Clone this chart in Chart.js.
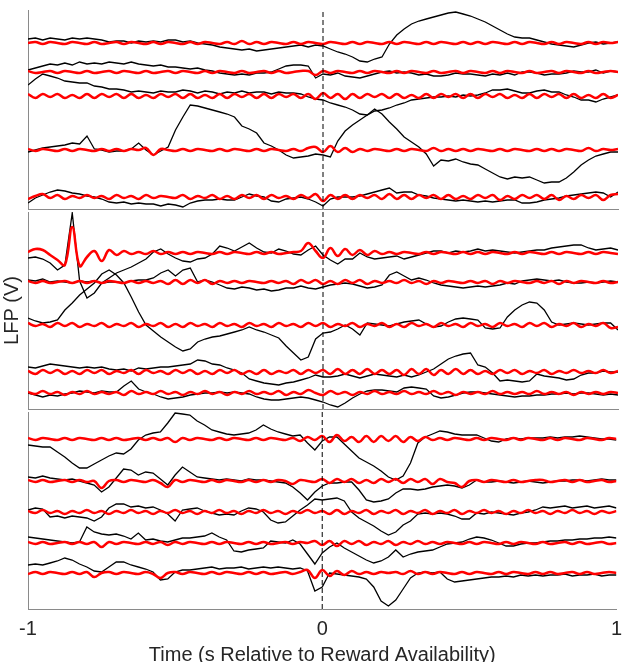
<!DOCTYPE html>
<html>
<head>
<meta charset="utf-8">
<script src="https://cdn.jsdelivr.net/npm/chart.js@4.4.0/dist/chart.umd.min.js"></script>
<style>
  html, body { margin: 0; padding: 0; background: #fff; }
  body { width: 630px; height: 662px; overflow: hidden; position: relative; }
  .panel { position: absolute; left: 0; width: 630px; }
</style>
</head>
<body>
<div class="panel" style="top:0;height:212px"><canvas id="chartA"></canvas></div>
<div class="panel" style="top:202px;height:210px"><canvas id="chartB"></canvas></div>
<div class="panel" style="top:402px;height:268px"><canvas id="chartC"></canvas></div>
<script>
// sample times, -1 s to 1 s in steps of 0.025 s
const times = Array.from({ length: 81 }, (_, i) => -1 + i * 0.025);
const xTicks = [-1, 0, 1];

/* Top panel */

const redBaseA = [166, 137, 113, 59, 12];

const redA1 = [0,1,-1,1,0,-1,1,0,-1,1, -1,0,1,-1,1,0,-1,1,-1,1, 0,-1,1,-1,1,0,-1,1,-1,2, -1,1,-1,1,0,-1,1,-1,1,0,
  -1,1,0,-1,1,-1,1,0,-1,1, -1,1,0,-1,1,-1,1,0,-1,1, -1,1,-1,1,0,-1,1,-1,1,0, -1,1,-1,1,0,-1,1,-1,1,0, 1];
const redA2 = [1,-1,0,1,-1,1,0,-1,1,-1, 0,1,-1,1,0,-1,1,-1,0,1, -1,1,0,-1,1,-1,1,0,-1,1, -1,0,1,-1,1,-1,0,1,1,-3,
  1,-1,1,0,-1,1,-1,1,0,-1, 1,-1,1,0,-1,1,-1,0,1,-1, 1,0,-1,1,-1,1,0,-1,1,-1, 0,1,-1,1,0,-1,1,-1,0,1, 0];
const redA3 = [2,-2,2,-1,2,-2,1,-2,2,-2, 2,-1,2,-2,2,-2,1,-2,2,-1, 2,-2,2,-2,1,-2,2,-2,2,-1, 2,-2,2,-2,2,-1,2,-2,2,-3,
  3,-2,2,-3,2,-2,2,-1,2,-2, 2,-2,1,-2,2,-2,2,-1,2,-2, 2,-2,2,-1,2,-2,1,-2,2,-2, 2,-1,2,-2,2,-2,1,-2,2,-2, 1];
const redA4 = [1,-1,1,0,-1,1,-1,1,0,-1, 1,-1,1,-1,1,0,2,-5,1,0, -1,1,-1,1,0,-1,1,-1,1,0, -1,1,-1,1,0,-1,1,-1,2,3,
  -2,4,-2,2,-2,1,-1,1,0,-1, 1,-1,1,0,-1,2,-1,1,-1,1, -1,1,0,-1,1,-1,1,0,-1,1, -1,1,-1,1,0,-1,2,-1,1,0, 1];
const redA5 = [-2,1,3,-1,2,-2,1,-1,2,-1, 1,-2,2,-1,1,-2,2,-1,1,0, -1,2,-2,1,-1,2,-2,1,-2,2, -1,2,-2,2,-1,1,-2,2,-1,3,
  -4,2,-2,2,-2,2,-1,2,-2,3, -2,2,-2,2,-1,2,-2,2,-2,1, -2,2,-1,2,-3,1,-2,2,-1,2, -2,2,-3,1,-2,2,-1,2,-3,2, 3];

const blackA1 = [170,171,169,171,170,169,171,170,171,170, 169,167,168,168,166,168,167,168,167,169,
  169,167,168,166,165,164,162,161,160,159, 160,158,159,160,161,162,163,164,162,164,
  163,160,157,155,152,148,147,150,152,165, 174,180,185,188,190,192,194,196,197,195,
  193,190,187,183,179,175,172,171,171,169, 167,165,164,163,162,164,166,167,165,166, 167];
const blackA2 = [139,141,143,145,144,146,144,147,145,146, 145,147,146,145,147,145,144,143,144,142,
  142,141,140,141,139,138,136,135,134,135, 134,136,136,137,140,143,144,144,143,131,
  135,134,136,133,132,131,133,135,137,138, 136,137,136,134,135,133,133,134,136,135,
  135,134,133,135,134,136,134,137,137,136, 134,135,135,136,138,137,137,139,136,138, 137];
const blackA3 = [124,130,135,133,131,128,127,126,126,123, 122,120,120,119,117,118,117,116,118,117,
  117,119,118,116,118,117,115,117,116,118, 116,117,117,115,117,116,116,115,112,110,
  109,106,104,102,99,95,94,98,99,101, 104,106,109,110,111,112,112,113,112,114,
  113,114,116,119,119,120,118,116,116,118, 119,117,117,114,112,109,109,107,110,112, 114];
const blackA4 = [57,59,61,62,63,64,66,65,73,60, 59,57,58,58,60,66,59,54,58,62,
  79,92,104,103,101,99,97,95,92,83, 80,76,66,63,59,54,51,52,53,55,
  54,52,68,78,84,89,94,100,95,87, 80,72,67,62,55,43,49,48,50,47,
  45,44,40,36,32,30,32,31,32,29, 26,27,27,31,37,44,49,53,55,57, 57];
const blackA5 = [6,11,14,17,19,18,16,15,13,12, 10,7,6,7,5,6,5,5,3,5,
  4,2,6,8,9,9,10,9,9,12, 15,13,12,8,7,10,11,12,10,7,
  3,10,12,12,12,13,15,17,19,21, 16,17,17,14,13,11,10,9,8,9,
  8,7,8,7,8,9,9,6,6,7, 9,10,11,13,14,15,16,17,16,12, 17];

/* Middle panel */

const redBaseB = [156, 127, 84, 37, 16];

const redB1 = [1,4,3,-2,-7,-12,26,-13,-4,2, -8,3,-2,2,-1,1,-1,2,-1,1, -1,1,-1,1,0,-1,1,-1,1,0, -1,1,-1,1,-1,0,1,2,10,2,
  -5,5,-3,4,-2,3,-2,2,-1,1, -1,1,0,-1,1,-1,1,0,-1,1, -1,1,-1,1,0,-1,1,-1,1,0, -1,1,-1,1,0,-1,1,-1,1,0, -1];
const redB2 = [1,-1,1,-1,0,1,-1,1,-1,1, -1,1,0,-1,1,-1,1,-1,1,-2, 2,-2,2,-1,2,-2,1,-1,1,-1, 1,0,-1,1,-1,1,-2,2,-1,2,
  -2,1,-2,2,-1,2,-2,1,-1,1, -1,2,-1,1,-2,1,-1,1,0,-1, 1,-1,1,-2,1,-1,1,0,-1,1, -1,1,-2,1,-1,1,0,-1,1,-1, 0];
const redB3 = [2,-1,1,-2,2,-1,2,-2,1,-1, 2,-2,1,-1,2,-2,1,-1,2,-2, 1,-2,2,-1,1,-2,2,-1,1,-2, 2,-1,1,-2,2,-1,1,-2,2,-1,
  2,-2,1,-1,2,-2,1,-1,2,-2, 1,-2,2,-1,1,-2,2,-1,1,-2, 2,-1,1,-2,2,-1,1,-2,2,-1, 2,-2,1,-1,2,-2,1,-1,2,-3, -2];
const redB4 = [1,-2,2,-1,2,-2,1,-2,2,-1, 2,-2,1,-1,2,-2,2,-1,1,-2, 2,-1,2,-2,1,-2,2,-1,2,-2, 1,-2,2,-2,1,-1,2,-2,2,-1,
  2,-2,3,-2,2,-2,3,-2,2,-2, 2,-3,3,-2,3,-3,2,-2,3,-2, 2,-2,1,-2,2,-1,2,-2,1,-1, 2,-2,1,-1,2,-1,1,-1,2,-1, 1];
const redB5 = [1,-1,2,-1,1,-2,1,-1,2,-1, 1,-1,1,-2,2,-1,1,-1,2,-1, 1,-2,1,-1,2,-1,1,-2,1,-1, 2,-1,1,-1,2,-2,1,-1,3,0,
  -2,2,-1,1,-2,1,-1,2,-1,1, -1,2,-1,1,-1,2,-1,1,-2,1, -1,1,-1,2,-1,1,-1,1,-1,2, -1,1,-1,1,-2,1,-1,1,-1,1, 0];

const blackB1 = [151,152,150,146,139,144,196,128,111,116, 126,131,136,139,142,146,150,157,160,155,
  151,148,147,150,151,155,163,161,158,162, 166,161,157,156,160,158,155,154,159,163,
  154,149,145,150,150,156,152,150,151,152, 153,150,152,154,156,158,158,156,158,157,
  158,160,158,159,158,157,156,157,158,159, 159,161,162,163,164,164,161,159,160,161, 159];
const blackB2 = [129,128,130,127,128,127,126,128,127,128, 126,127,127,126,128,129,129,131,136,139,
  133,139,141,127,129,127,124,121,120,122, 121,119,120,118,119,121,121,123,121,120,
  122,124,125,126,125,123,121,122,124,134, 137,133,129,131,129,126,124,123,122,121,
  122,123,122,123,124,126,125,128,129,130, 129,128,129,127,126,126,127,126,127,128, 127];
const blackB3 = [91,88,86,87,89,99,106,114,120,126, 135,139,134,126,112,97,84,78,72,67,
  62,58,60,67,70,72,73,75,77,79, 82,79,77,74,71,63,56,49,52,70,
  76,77,80,84,80,74,86,85,84,83, 85,87,88,89,85,82,83,87,90,91,
  90,89,81,80,81,92,99,104,107,106, 99,87,84,85,86,85,84,85,86,86, 79];
const blackB4 = [42,41,43,45,44,43,42,41,42,41, 42,40,39,40,38,41,40,41,42,42,
  43,44,45,49,48,45,44,41,39,36, 30,28,26,25,24,26,27,29,31,34,
  32,32,33,35,33,31,33,35,34,33, 32,34,32,34,37,40,45,50,53,55,
  56,44,42,36,28,29,28,27,28,35, 33,32,31,29,30,34,36,36,38,37, 37];
const blackB5 = [16,14,12,14,13,15,16,18,17,16, 18,17,17,23,28,20,17,15,12,10,
  11,12,14,15,16,16,17,16,17,16, 15,12,10,9,9,10,11,12,11,9,
  7,4,2,6,11,15,18,19,19,18, 17,21,22,21,20,13,11,12,14,16,
  17,17,16,15,14,13,12,13,13,14, 14,15,15,16,15,16,16,15,14,15, 14];

/* Bottom panel */

const redBaseC = [170, 128, 97, 66, 36];

const redC1 = [1,-1,1,0,-1,1,-1,1,0,-1, 1,-1,1,-1,0,1,-1,1,-1,1, -3,1,-1,1,0,-1,1,-1,1,0, -1,1,-1,1,0,-1,1,-2,2,-1,
  3,-3,4,-2,2,-3,3,-3,3,-2, 3,-3,2,-2,2,-1,1,-1,1,0, -1,1,-1,1,0,-1,1,-1,1,0, -1,1,-1,1,0,-1,1,0,-1,1, 0];
const redC2 = [1,-1,1,-1,0,1,-1,1,-1,0, -7,0,1,-1,1,0,-1,1,-2,-6, 1,-1,1,0,-1,1,-1,1,0,-1, 1,-1,1,-1,1,0,-3,1,0,-1,
  2,-2,2,-1,2,-2,1,-2,2,-1, 2,-2,2,-1,2,-3,2,-1,-2,-6, 0,1,-1,1,0,-1,1,-1,0,1, 1,-1,0,1,-1,1,-1,0,1,-1, 0];
const redC3 = [1,-1,2,-1,1,-2,1,-1,2,-1, 1,-2,1,-1,2,-1,1,-2,1,-1, 2,-1,1,-2,1,-1,2,-1,1,-2, 1,-1,2,-1,1,-2,1,-1,2,-1,
  1,-2,2,-2,1,-1,2,-2,1,-1, 2,-2,1,-1,2,-2,1,-1,2,-2, 1,-1,2,-1,1,-2,1,-1,2,-1, 1,-2,1,-1,2,-1,1,-2,1,-1, 1];
const redC4 = [1,-1,1,-1,0,1,-1,1,-1,1, -4,1,-1,1,0,-1,1,-1,1,-2, 1,-1,1,0,-1,1,-1,1,0,-1, 1,-1,1,-1,0,1,-1,1,0,2,
  -2,2,-3,2,-1,2,-2,1,-1,2, -2,1,-1,2,-1,1,-1,1,0,-1, 1,-1,1,0,-1,1,-1,1,0,-1, 1,-1,0,1,-1,1,-1,0,1,-1, 0];
const redC5 = [-1,1,-1,1,0,-1,1,-1,1,-4, 0,1,-1,1,0,-1,1,-1,-5,0, 1,-1,1,0,-1,1,-1,1,0,-1, 1,-1,1,-1,0,1,-1,1,3,-5,
  3,-3,2,-2,2,-1,1,-1,1,0, 1,-1,2,-1,1,-1,1,0,-1,1, -1,1,0,-1,1,-1,1,0,-1,1, -1,1,-1,0,1,-1,1,-1,0,1, 0];

const blackC1 = [164,163,162,162,157,152,146,141,141,145, 149,153,156,155,160,169,174,176,177,186,
  196,195,194,188,184,179,177,175,174,175, 176,179,184,180,177,175,173,174,166,159,
  168,172,172,165,158,151,147,143,138,132, 129,133,146,166,172,175,178,177,175,174,
  174,174,171,168,167,170,171,170,171,171, 171,172,171,172,172,173,172,171,170,170, 169];
const blackC2 = [132,131,133,131,130,129,130,128,126,124, 117,122,131,140,139,134,137,136,130,124,
  134,142,137,132,131,130,129,130,129,128, 130,129,129,128,127,126,122,116,109,117,
  123,126,126,127,127,119,109,107,108,110, 116,120,120,119,120,122,123,124,123,121,
  124,129,127,127,128,127,126,127,128,127, 126,127,128,128,129,129,128,129,130,129, 129];
const blackC3 = [99,101,100,92,93,91,93,92,91,88, 92,101,105,105,102,103,101,102,99,95,
  88,99,100,101,98,96,94,95,94,98, 101,100,97,89,86,87,93,99,104,110,
  109,110,111,108,97,91,87,83,78,74, 77,84,88,95,96,95,96,95,93,90,
  90,96,95,97,96,95,94,96,97,99, 102,101,102,103,101,102,103,101,102,103, 101];
const blackC4 = [72,71,70,69,68,67,66,67,82,77, 75,74,75,73,70,76,69,70,68,67,
  69,71,71,72,73,76,72,69,58,57, 59,60,61,68,67,66,69,65,55,45,
  56,62,66,61,57,53,49,46,48,52, 59,52,55,57,58,59,62,65,66,67,
  70,72,71,69,66,63,63,65,66,66, 67,68,68,69,69,70,70,71,71,72, 71];
const blackC5 = [44,45,44,46,48,51,49,45,42,38, 37,42,47,47,44,42,40,37,29,30,
  37,39,39,40,41,42,40,41,41,42, 40,41,42,41,42,41,40,41,38,18,
  22,36,35,34,33,32,30,22,8,3, 9,20,31,36,37,36,37,30,27,28,
  29,30,31,32,32,33,32,34,33,34, 33,34,34,35,33,34,34,35,33,34, 34];

const fontFamily = "'Liberation Sans', Arial, Helvetica, sans-serif";
const textColor = '#262626';
const axisColor = '#8a8a8a';

function toPoints(values) {
  return values.map((v, i) => ({ x: times[i], y: v }));
}

function makePanel(id, blacks, reds, redBase, yMax, isBottom, yTitle) {
  const datasets = [];

  // dashed line at reward availability
  datasets.push({
    data: [{ x: 0, y: 0 }, { x: 0, y: yMax }],
    borderColor: '#000', borderWidth: 1, borderDash: [5, 3]
  });

  reds.forEach((dev, k) => {
    datasets.push({
      data: toPoints(dev.map(d => redBase[k] + d)),
      borderColor: '#ff0000', borderWidth: 2.5, tension: 0.4
    });
  });

  blacks.forEach(vals => {
    datasets.push({
      data: toPoints(vals),
      borderColor: '#000000', borderWidth: 1.3, tension: 0
    });
  });

  return new Chart(document.getElementById(id), {
    type: 'line',
    data: { datasets: datasets },
    options: {
      animation: false,
      responsive: true,
      maintainAspectRatio: false,
      devicePixelRatio: 1,
      events: [],
      layout: { padding: { left: 0, right: 12, top: 10, bottom: isBottom ? 0 : 3 } },
      elements: { point: { radius: 0 } },
      plugins: { legend: { display: false }, tooltip: { enabled: false } },
      scales: {
        x: {
          type: 'linear', min: -1, max: 1,
          grid: { display: false, drawTicks: false },
          border: { display: true, color: axisColor, width: 1 },
          afterBuildTicks: scale => { scale.ticks = xTicks.map(v => ({ value: v })); },
          ticks: { display: isBottom, padding: 8, color: textColor, font: { family: fontFamily, size: 20 } },
          title: {
            display: isBottom,
            text: 'Time (s Relative to Reward Availability)',
            color: textColor,
            font: { family: fontFamily, size: 20 },
            padding: { top: 0, bottom: 3 }
          },
          afterFit: scale => { scale.height = isBottom ? 61 : 0; }
        },
        y: {
          min: 0, max: yMax,
          grid: { display: false, drawTicks: false },
          border: { display: true, color: axisColor, width: 1 },
          ticks: { display: false },
          title: {
            display: !!yTitle,
            text: yTitle || '',
            color: textColor,
            font: { family: fontFamily, size: 20 },
            padding: { top: 0, bottom: 0 }
          },
          afterFit: scale => { scale.width = 28; }
        }
      }
    }
  });
}

makePanel('chartA', [blackA1, blackA2, blackA3, blackA4, blackA5],
  [redA1, redA2, redA3, redA4, redA5], redBaseA, 199, false, null);
makePanel('chartB', [blackB1, blackB2, blackB3, blackB4, blackB5],
  [redB1, redB2, redB3, redB4, redB5], redBaseB, 197, false, 'LFP (V)');
makePanel('chartC', [blackC1, blackC2, blackC3, blackC4, blackC5],
  [redC1, redC2, redC3, redC4, redC5], redBaseC, 197, true, null);
</script>
</body>
</html>
